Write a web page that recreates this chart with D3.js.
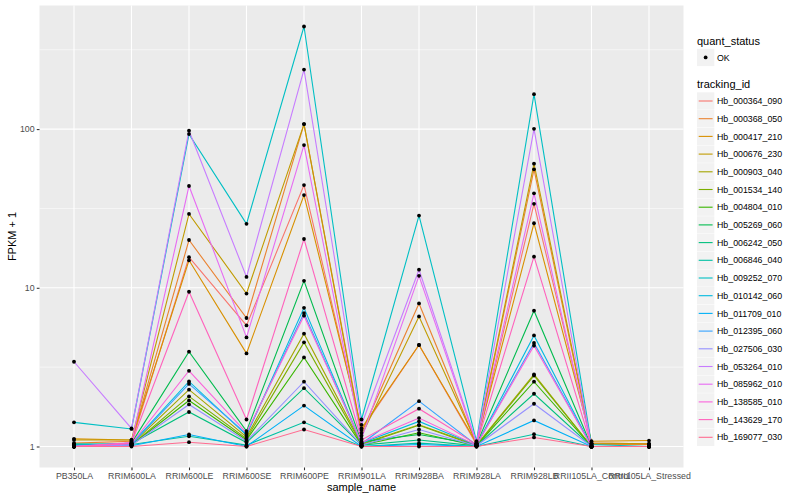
<!DOCTYPE html>
<html><head><meta charset="utf-8">
<script src="https://cdn.jsdelivr.net/npm/d3@7"></script>
<style>body{margin:0;background:#fff;} svg{display:block;} text{font-family:"Liberation Sans",Arial,Helvetica,sans-serif;}</style>
</head><body>
<svg id="chart" width="800" height="500"></svg>
<script>
const samples = ["PB350LA","RRIM600LA","RRIM600LE","RRIM600SE","RRIM600PE","RRIM901LA","RRIM928BA","RRIM928LA","RRIM928LB","RRII105LA_Control","RRII105LA_Stressed"];
const trackingIds = ["Hb_000364_090","Hb_000368_050","Hb_000417_210","Hb_000676_230","Hb_000903_040","Hb_001534_140","Hb_004804_010","Hb_005269_060","Hb_006242_050","Hb_006846_040","Hb_009252_070","Hb_010142_060","Hb_011709_010","Hb_012395_060","Hb_027506_030","Hb_053264_010","Hb_085962_010","Hb_138585_010","Hb_143629_170","Hb_169077_030"];
const colors = ["#F8766D","#EA8331","#D89000","#C09B00","#A3A500","#7CAE00","#39B600","#00BB4E","#00BF7D","#00C1A3","#00BFC4","#00BAE0","#00B0F6","#35A2FF","#9590FF","#C77CFF","#E76BF3","#FA62DB","#FF62BC","#FF6C91"];
// FPKM + 1 per tracking id, in sample order
const s00 = [1.0, 1.05, 15.6, 5.79, 44.4, 1.27, 4.36, 1.03, 33.8, 1.05, 1.04];
const s01 = [1.05, 1.08, 20.0, 6.45, 107.5, 1.22, 7.97, 1.04, 55.8, 1.03, 1.03];
const s02 = [1.117, 1.1, 14.9, 3.86, 38.4, 1.3, 4.36, 1.05, 25.5, 1.08, 1.09];
const s03 = [1.1, 1.1, 29.2, 9.2, 107.5, 1.17, 6.6, 1.05, 60.5, 1.05, 1.04];
const s04 = [1.02, 1.03, 2.28, 1.15, 5.14, 1.04, 1.37, 1.02, 2.85, 1.0, 1.0];
const s05 = [1.01, 1.02, 2.07, 1.12, 4.53, 1.03, 1.36, 1.01, 2.80, 1.0, 1.0];
const s06 = [1.0, 1.02, 1.95, 1.1, 3.64, 1.02, 1.22, 1.01, 2.56, 1.0, 1.0];
const s07 = [1.0, 1.05, 3.96, 1.25, 11.07, 1.07, 1.19, 1.03, 7.17, 1.0, 1.0];
const s08 = [1.03, 1.04, 1.65, 1.06, 2.33, 1.02, 1.1, 1.01, 2.15, 1.0, 1.0];
const s09 = [1.04, 1.03, 1.16, 1.02, 1.42, 1.0, 1.05, 1.0, 1.195, 1.0, 1.0];
const s10 = [1.42, 1.29, 93, 25.3, 443, 1.48, 28.5, 1.08, 166, 1.03, 1.0];
const s11 = [1.02, 1.04, 2.57, 1.18, 7.48, 1.05, 1.44, 1.02, 5.01, 1.0, 1.0];
const s12 = [1.0, 1.01, 1.19, 1.0, 1.81, 1.0, 1.03, 1.0, 1.46, 1.0, 1.0];
const s13 = [1.01, 1.03, 2.48, 1.2, 6.93, 1.04, 1.93, 1.02, 4.49, 1.0, 1.0];
const s14 = [1.0, 1.02, 1.84, 1.08, 2.56, 1.02, 1.28, 1.01, 1.86, 1.0, 1.0];
const s15 = [3.42, 1.3, 97.6, 11.7, 237, 1.37, 13.0, 1.06, 100.4, 1.0, 1.0];
const s16 = [1.0, 1.06, 43.8, 4.87, 79.3, 1.12, 11.9, 1.04, 39.4, 1.0, 1.0];
const s17 = [1.0, 1.04, 3.0, 1.22, 6.67, 1.06, 1.51, 1.02, 4.32, 1.0, 1.0];
const s18 = [1.0, 1.05, 9.44, 1.48, 20.3, 1.1, 1.73, 1.03, 15.7, 1.0, 1.0];
const s19 = [1.0, 1.0, 1.064, 1.0, 1.28, 1.0, 1.0, 1.0, 1.14, 1.0, 1.0];
const seriesValues = [s00,s01,s02,s03,s04,s05,s06,s07,s08,s09,s10,s11,s12,s13,s14,s15,s16,s17,s18,s19];
const yTicks = [1, 10, 100];
const yMinor = [Math.sqrt(10), Math.sqrt(1000), Math.sqrt(100000)];

const svg = d3.select("#chart");
const P = {left: 39.5, right: 683.5, top: 5.5, bottom: 467.5};

const x = d3.scalePoint().domain(samples).range([P.left, P.right]).padding(0.6);
const all = seriesValues.flat();
const lo = Math.log10(d3.min(all)), hi = Math.log10(d3.max(all));
const ex = (hi - lo) * 0.05;
const y = d3.scaleLog().domain([Math.pow(10, lo - ex), Math.pow(10, hi + ex)]).range([P.bottom, P.top]);

// panel
svg.append("rect").attr("x", P.left).attr("y", P.top).attr("width", P.right - P.left).attr("height", P.bottom - P.top).attr("fill", "#EBEBEB");
const grid = svg.append("g");
yMinor.forEach(v => grid.append("line").attr("x1", P.left).attr("x2", P.right).attr("y1", y(v)).attr("y2", y(v)).attr("stroke", "#fff").attr("stroke-width", 0.55));
yTicks.forEach(v => grid.append("line").attr("x1", P.left).attr("x2", P.right).attr("y1", y(v)).attr("y2", y(v)).attr("stroke", "#fff").attr("stroke-width", 1.1));
samples.forEach(s => grid.append("line").attr("x1", x(s)).attr("x2", x(s)).attr("y1", P.top).attr("y2", P.bottom).attr("stroke", "#fff").attr("stroke-width", 1.1));

// lines
const line = d3.line().x((d, i) => x(samples[i])).y(d => y(d));
const lg = svg.append("g");
seriesValues.forEach((vals, k) => {
  lg.append("path").attr("d", line(vals)).attr("fill", "none").attr("stroke", colors[k]).attr("stroke-width", 1.1);
});
// points
const pg = svg.append("g");
seriesValues.forEach((vals, k) => {
  vals.forEach((v, i) => pg.append("circle").attr("cx", x(samples[i])).attr("cy", y(v)).attr("r", 1.9).attr("fill", "#000"));
});

// axes
const xAxis = svg.append("g").attr("transform", `translate(0,${P.bottom})`)
  .call(d3.axisBottom(x).tickSize(2.74).tickPadding(2.2));
const yAxis = svg.append("g").attr("transform", `translate(${P.left},0)`)
  .call(d3.axisLeft(y).tickValues(yTicks).tickFormat(d3.format("d")).tickSize(2.74).tickPadding(2.2));
[xAxis, yAxis].forEach(a => {
  a.select(".domain").remove();
  a.selectAll(".tick line").attr("stroke", "#333333").attr("stroke-width", 1.07);
  a.selectAll(".tick text").attr("fill", "#4D4D4D").attr("font-size", "8.8px").attr("font-family", '"Liberation Sans",Arial,sans-serif');
});

svg.append("text").attr("x", (P.left + P.right) / 2).attr("y", 491).attr("text-anchor", "middle").attr("font-size", "11px").attr("fill", "#000").text("sample_name");
svg.append("text").attr("transform", `translate(15.5,${(P.top + P.bottom) / 2}) rotate(-90)`).attr("text-anchor", "middle").attr("font-size", "11px").attr("fill", "#000").text("FPKM + 1");

// legends
const L = svg.append("g");
const lx = 697;
L.append("text").attr("x", lx).attr("y", 44.5).attr("font-size", "11px").text("quant_status");
L.append("rect").attr("x", lx).attr("y", 48.8).attr("width", 17.3).attr("height", 17.3).attr("fill", "#F2F2F2");
L.append("circle").attr("cx", lx + 8.65).attr("cy", 57.45).attr("r", 1.9).attr("fill", "#000");
L.append("text").attr("x", lx + 20).attr("y", 60.6).attr("font-size", "8.8px").attr("fill", "#000").text("OK");
L.append("text").attr("x", lx).attr("y", 88.3).attr("font-size", "11px").text("tracking_id");
trackingIds.forEach((id, k) => {
  const cy = 101 + k * 17.7;
  L.append("rect").attr("x", lx).attr("y", cy - 8.65).attr("width", 17.3).attr("height", 17.3).attr("fill", "#F2F2F2");
  L.append("line").attr("x1", lx + 1.7).attr("x2", lx + 15.6).attr("y1", cy).attr("y2", cy).attr("stroke", colors[k]).attr("stroke-width", 1.1);
  L.append("text").attr("x", lx + 20).attr("y", cy + 3.1).attr("font-size", "8.8px").attr("fill", "#000").text(id);
});
</script>
</body></html>
